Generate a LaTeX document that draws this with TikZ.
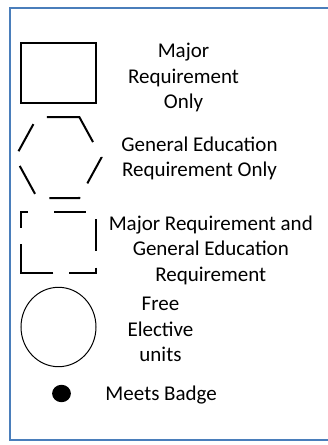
\documentclass[tikz,border=0pt]{standalone}
\usepackage{fontspec}
\setmainfont{Carlito}
\definecolor{frameblue}{RGB}{74,126,187}
\begin{document}
\begin{tikzpicture}[x=1pt,y=-1pt,
  legendtext/.style={align=center,anchor=base,inner sep=0pt,font=\fontsize{21}{25.3}\selectfont},
  thickline/.style={line width=2pt,line join=miter,line cap=butt}]
\useasboundingbox (0,0) rectangle (328,445);
\clip (0,0) rectangle (328,445);
% outer frame
\draw[frameblue,line width=2pt] (10,7.7) rectangle (345,439.5);
% solid rectangle: major only
\draw[thickline] (20.7,43.3) rectangle (96,103.3);
% dashed hexagon: gen ed only
\draw[thickline,dash pattern=on 59.6pt off 17.1pt on 30pt off 15.7pt on 31pt off 16.7pt on 31.8pt off 16.8pt on 30.9pt off 17.8pt]
  (48.3,117) -- (79.3,117) -- (101.5,157.5) -- (79.3,198) -- (37.3,198) -- (15.1,157.5) -- (37.3,117) -- cycle;
% dashed rectangle: both
\draw[thickline,dash pattern=on 32pt off 16.7pt on 32pt off 16.7pt on 32.3pt off 16pt on 61.6pt off 16.6pt on 23pt off 25.7pt]
  (54,212.3) -- (96,212.3) -- (96,273.3) -- (20.7,273.3) -- (20.7,212.3) -- cycle;
% circle: free elective
\draw[line width=1pt] (58.5,327) ellipse [x radius=37.5, y radius=39.7];
% dot: badge
\fill (61.5,393.5) ellipse [x radius=9.4, y radius=8.7];
% texts (base anchor = baseline of last line)
\node[legendtext] (t1) at (183.5,108.3) {Major\\Requirement\\Only};
\node[legendtext] (t2) at (199.5,176.5) {General Education\\Requirement Only};
\node[legendtext] (t3) at (210.8,281) {Major Requirement and\\General Education\\Requirement};
\node[legendtext] (t4) at (160.5,361.5) {Free\\Elective\\units};
\node[legendtext] (t5) at (161.2,400.7) {Meets Badge};
\end{tikzpicture}
\end{document}
